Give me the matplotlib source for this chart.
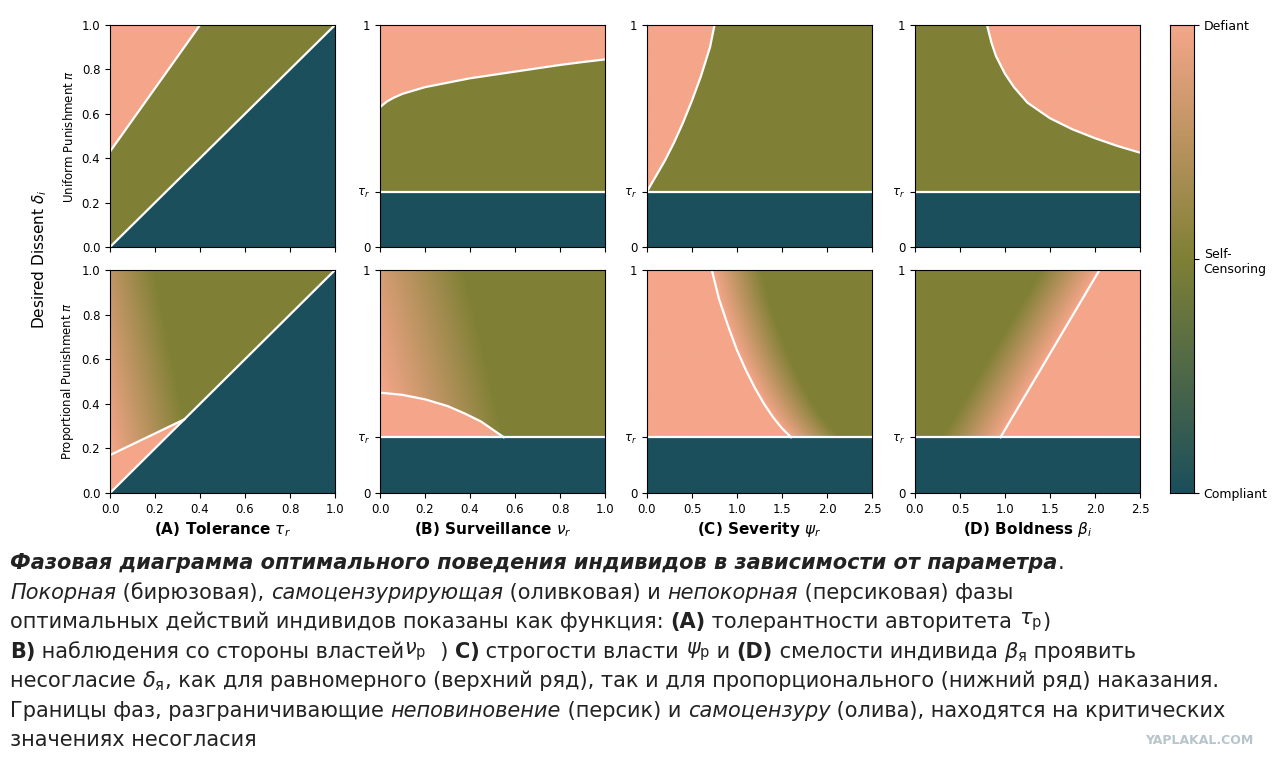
import numpy as np
import matplotlib
matplotlib.use("Agg")
import matplotlib.pyplot as plt
from matplotlib.colors import LinearSegmentedColormap

TEAL, OLIVE, PEACH = "#1b4f5c", "#7f8035", "#f5a68a"
cmap = LinearSegmentedColormap.from_list("ph", [TEAL, OLIVE, PEACH])
TAU = 0.25

# boundary data
A_top_x, A_top_y = [0.0, 0.4], [0.43, 1.0]
A_bot_x, A_bot_y = [0.0, 0.33], [0.17, 0.33]
B_top_x = [0, 0.03, 0.06, 0.1, 0.15, 0.2, 0.3, 0.4, 0.5, 0.6, 0.7, 0.8, 0.9, 1.0]
B_top_y = [0.63, 0.655, 0.672, 0.69, 0.705, 0.72, 0.74, 0.76, 0.775, 0.79, 0.805, 0.82, 0.833, 0.845]
B_bot_x = [0, 0.1, 0.2, 0.3, 0.38, 0.45, 0.5, 0.55]
B_bot_y = [0.45, 0.44, 0.42, 0.39, 0.355, 0.32, 0.285, 0.25]
C_top_x = [0, 0.1, 0.2, 0.3, 0.4, 0.5, 0.6, 0.7, 0.75]
C_top_y = [0.25, 0.32, 0.39, 0.47, 0.56, 0.66, 0.77, 0.9, 1.0]
C_bot_x = [1.6, 1.5, 1.4, 1.3, 1.2, 1.1, 1.0, 0.9, 0.8, 0.72]
C_bot_y = [0.25, 0.29, 0.34, 0.40, 0.47, 0.55, 0.64, 0.75, 0.87, 1.0]
D_top_x = [0.8, 0.85, 0.9, 1.0, 1.1, 1.25, 1.5, 1.75, 2.0, 2.25, 2.5]
D_top_y = [1.0, 0.92, 0.86, 0.78, 0.72, 0.65, 0.58, 0.53, 0.49, 0.455, 0.425]
D_bot_x, D_bot_y = [0.95, 2.05], [0.25, 1.0]

fig = plt.figure(figsize=(12.8, 7.69), dpi=100)
lefts = [110, 380, 647, 915]
W = 225
rows = [(25, 247), (270, 493)]
xmaxs = [1.0, 1.0, 2.5, 2.5]

def ax_at(l, t, b, w=W):
    return fig.add_axes([l/1280, 1-b/769, w/1280, (b-t)/769])

N = 400
def field(xmax, func):
    xs = np.linspace(0, xmax, N); ys = np.linspace(0, 1, N)
    X, Y = np.meshgrid(xs, ys)
    return func(X, Y)

def f_A_top(X, Y):
    v = np.full(X.shape, 0.5)
    v[Y > np.interp(X, A_top_x, A_top_y, right=9)] = 1
    v[Y < X] = 0
    return v
def f_A_bot(X, Y):
    c = np.interp(X, A_bot_x, A_bot_y, right=-9)
    d = X/0.33 + (Y - np.maximum(c, X))*0.55
    v = 1 - 0.5*np.clip(d, 0, 1)
    v[Y < c] = 1
    v[Y < X] = 0
    return v
def f_B_top(X, Y):
    v = np.full(X.shape, 0.5)
    v[Y > np.interp(X, B_top_x, B_top_y)] = 1
    v[Y < TAU] = 0
    return v
def f_B_bot(X, Y):
    c = np.interp(X, B_bot_x, B_bot_y, right=-9)
    d = X/0.55 + (Y - np.maximum(c, 0.25))*0.5
    v = 1 - 0.5*np.clip(d, 0, 1)
    v[Y < c] = 1
    v[Y < TAU] = 0
    return v
def f_C_top(X, Y):
    xb = np.interp(Y, C_top_y, C_top_x)
    v = np.full(X.shape, 0.5)
    v[X < xb] = 1
    v[Y < TAU] = 0
    return v
def f_C_bot(X, Y):
    xb = np.interp(Y, C_bot_y, C_bot_x)
    d = (X - xb)/0.55
    v = 1 - 0.5*np.clip(d, 0, 1)
    v[X < xb] = 1
    v[Y < TAU] = 0
    return v
def f_D_top(X, Y):
    v = np.full(X.shape, 0.5)
    v[(Y > np.interp(X, D_top_x, D_top_y, left=9))] = 1
    v[Y < TAU] = 0
    return v
def f_D_bot(X, Y):
    xb = np.interp(Y, D_bot_y, D_bot_x)
    d = (xb - X)/0.65
    v = 1 - 0.5*np.clip(d, 0, 1)
    v[X > xb] = 1
    v[Y < TAU] = 0
    return v

funcs = [[f_A_top, f_B_top, f_C_top, f_D_top], [f_A_bot, f_B_bot, f_C_bot, f_D_bot]]
curves = [[(A_top_x, A_top_y), (B_top_x, B_top_y), (C_top_x, C_top_y), (D_top_x, D_top_y)],
          [(A_bot_x, A_bot_y), (B_bot_x, B_bot_y), (C_bot_x, C_bot_y), (D_bot_x, D_bot_y)]]
xlabels = [r"(A) Tolerance $\tau_r$", r"(B) Surveillance $\nu_r$",
           r"(C) Severity $\psi_r$", r"(D) Boldness $\beta_i$"]

for r, (t, b) in enumerate(rows):
    for c in range(4):
        ax = ax_at(lefts[c], t, b)
        xm = xmaxs[c]
        ax.imshow(field(xm, funcs[r][c]), cmap=cmap, vmin=0, vmax=1, origin="lower",
                  extent=[0, xm, 0, 1], aspect="auto", interpolation="bilinear")
        cx, cy = curves[r][c]
        ax.plot(cx, cy, color="white", lw=1.6)
        if c == 0:
            ax.plot([0, 1], [0, 1], color="white", lw=1.6)
            ax.set_yticks(np.arange(0, 1.01, 0.2))
        else:
            ax.axhline(TAU, color="white", lw=1.6)
            ax.set_yticks([0, TAU, 1]); ax.set_yticklabels(["0", r"$\tau_r$", "1"])
        ax.set_xlim(0, xm); ax.set_ylim(0, 1)
        if xm == 1.0:
            ax.set_xticks(np.arange(0, 1.01, 0.2))
        else:
            ax.set_xticks(np.arange(0, 2.51, 0.5))
        ax.tick_params(labelsize=8.5)
        if r == 0:
            ax.set_xticklabels([])
        else:
            ax.set_xlabel(xlabels[c], fontsize=11, fontweight="bold", labelpad=3)
        if c == 0:
            ax.set_ylabel("Uniform Punishment $\\pi$" if r == 0 else "Proportional Punishment $\\pi$",
                          fontsize=8.5)

fig.text(40/1280, 1-259/769, r"Desired Dissent $\delta_i$", rotation=90, fontsize=11,
         ha="center", va="center")

cax = ax_at(1170, 25, 493, w=24)
cax.imshow(np.linspace(0, 1, 256)[:, None], cmap=cmap, origin="lower", aspect="auto",
           extent=[0, 1, 0, 1])
cax.set_xticks([]); cax.yaxis.tick_right()
cax.set_yticks([0, 0.5, 1]); cax.set_yticklabels(["Compliant", "Self-\nCensoring", "Defiant"], fontsize=9)

# caption
fig.canvas.draw()
rend = fig.canvas.get_renderer()
FS = 15
lines = [
    [("Фазовая диаграмма оптимального поведения индивидов в зависимости от параметра", "bi"), (".", "n")],
    [("Покорная", "i"), (" (бирюзовая), ", "n"), ("самоцензурирующая", "i"), (" (оливковая) и ", "n"),
     ("непокорная", "i"), (" (персиковая) фазы", "n")],
    [("оптимальных действий индивидов показаны как функция: ", "n"), ("(A)", "b"),
     (" толерантности авторитета ", "n"), (r"$\tau_{\mathrm{p}}$", "n"), (")", "n")],
    [("B)", "b"), (" наблюдения со стороны властей", "n"), (r"$\nu_{\mathrm{p}}$", "n"), ("  ) ", "n"),
     ("C)", "b"), (" строгости власти ", "n"), (r"$\psi_{\mathrm{p}}$", "n"), (" и ", "n"), ("(D)", "b"),
     (" смелости индивида ", "n"), (r"$\beta_{\mathrm{я}}$", "n"), (" проявить", "n")],
    [("несогласие ", "n"), (r"$\delta_{\mathrm{я}}$", "n"),
     (", как для равномерного (верхний ряд), так и для пропорционального (нижний ряд) наказания.", "n")],
    [("Границы фаз, разграничивающие ", "n"), ("неповиновение", "i"), (" (персик) и ", "n"),
     ("самоцензуру", "i"), (" (олива), находятся на критических", "n")],
    [("значениях несогласия", "n")],
]
ys = [563, 593, 622, 652, 681, 711, 740]
for segs, yp in zip(lines, ys):
    x = 10
    for s, st in segs:
        kw = dict(fontsize=FS, va="center", ha="left", color="#222222")
        if "b" in st: kw["fontweight"] = "bold"
        if "i" in st: kw["fontstyle"] = "italic"
        tt = fig.text(x/1280, 1-yp/769, s, **kw)
        bb = tt.get_window_extent(renderer=rend)
        x += bb.width
fig.text(1253/1280, 1-740/769, "YAPLAKAL.COM", fontsize=9, color="#b8c4cc",
         fontweight="bold", ha="right", va="center")

fig.savefig("out.png", dpi=100)
